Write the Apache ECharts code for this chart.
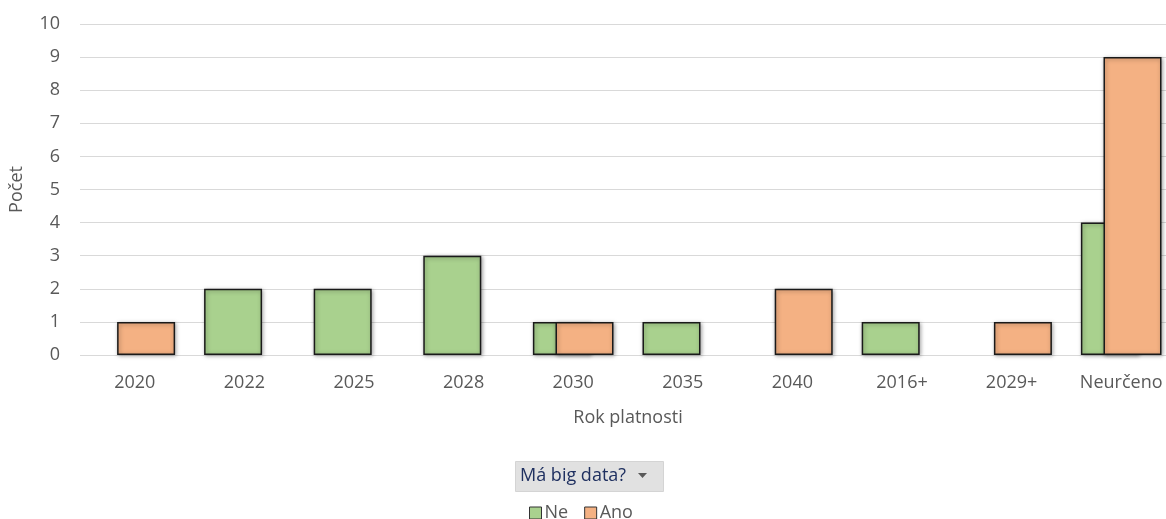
<!DOCTYPE html>
<html>
<head>
<meta charset="utf-8">
<script src="https://cdn.jsdelivr.net/npm/echarts@6/dist/echarts.min.js"></script>
<style>html,body{margin:0;padding:0;background:#fff;}#c{width:1166px;height:519px;}</style>
</head>
<body>
<div id="c"></div>
<script>
const categories = ['2020','2022','2025','2028','2030','2035','2040','2016+','2029+','Neurčeno'];
const neValues  = [null, 2, 2, 3, 1, 1, null, 1, null, 4];
const anoValues = [1, null, null, null, 1, null, 2, null, 1, 9];
const seriesNames = ['Ne', 'Ano'];
const yTicks = [0,1,2,3,4,5,6,7,8,9,10];

const FONT = '"Open Sans", "Noto Sans", sans-serif';
const FS = 18;
const chart = echarts.init(document.getElementById('c'), null, {renderer: 'canvas'});
const barStyle = (color) => ({
  color: color, borderColor: '#1a1a1a', borderWidth: 1.5,
  shadowBlur: 4, shadowColor: 'rgba(0,0,0,0.35)', shadowOffsetX: 1, shadowOffsetY: 1
});
chart.setOption({
  animation: false,
  textStyle: {fontFamily: FONT},
  grid: {left: 80, top: 24, width: 1096, height: 331, containLabel: false, outerBoundsMode: 'none'},
  xAxis: {
    type: 'category', data: categories,
    axisLine: {show: false}, axisTick: {show: false},
    axisLabel: {color: '#595959', fontSize: FS, margin: 19, fontFamily: FONT},
    name: 'Rok platnosti', nameLocation: 'middle', nameGap: 54,
    nameTextStyle: {color: '#595959', fontSize: FS, fontFamily: FONT}
  },
  yAxis: {
    type: 'value', min: yTicks[0], max: yTicks[yTicks.length-1], interval: 1,
    axisLine: {show: false}, axisTick: {show: false},
    axisLabel: {color: '#595959', fontSize: FS, margin: 20, fontFamily: FONT},
    splitLine: {lineStyle: {color: '#d9d9d9', width: 1.2}},
    name: 'Počet', nameLocation: 'middle', nameGap: 54, nameRotate: 90,
    nameTextStyle: {color: '#595959', fontSize: FS, fontFamily: FONT}
  },
  legend: {
    data: seriesNames, bottom: -8, left: 524,
    itemWidth: 12, itemHeight: 12, itemGap: 16,
    icon: 'rect',
    textStyle: {color: '#595959', fontSize: FS, fontFamily: FONT, padding: [0,0,0,-2]},
    itemStyle: {borderColor: '#333', borderWidth: 1}
  },
  graphic: [
    {type: 'rect', left: 515, top: 461, shape: {width: 148, height: 30}, style: {fill: '#e1e1e1', stroke: '#d4d4d4', lineWidth: 1}},
    {type: 'text', left: 520, top: 467, style: {text: 'Má big data?', fill: '#1f3060', font: '18px ' + FONT}},
    {type: 'polygon', shape: {points: [[638,473],[647,473],[642.5,478]]}, style: {fill: '#595959'}}
  ],
  series: [
    {name: seriesNames[0], type: 'bar', data: neValues, barWidth: 58, barGap: '-61%', itemStyle: barStyle('#a9d18e')},
    {name: seriesNames[1], type: 'bar', data: anoValues, barWidth: 58, barGap: '-61%', itemStyle: barStyle('#f4b183')}
  ]
});
</script>
</body>
</html>
